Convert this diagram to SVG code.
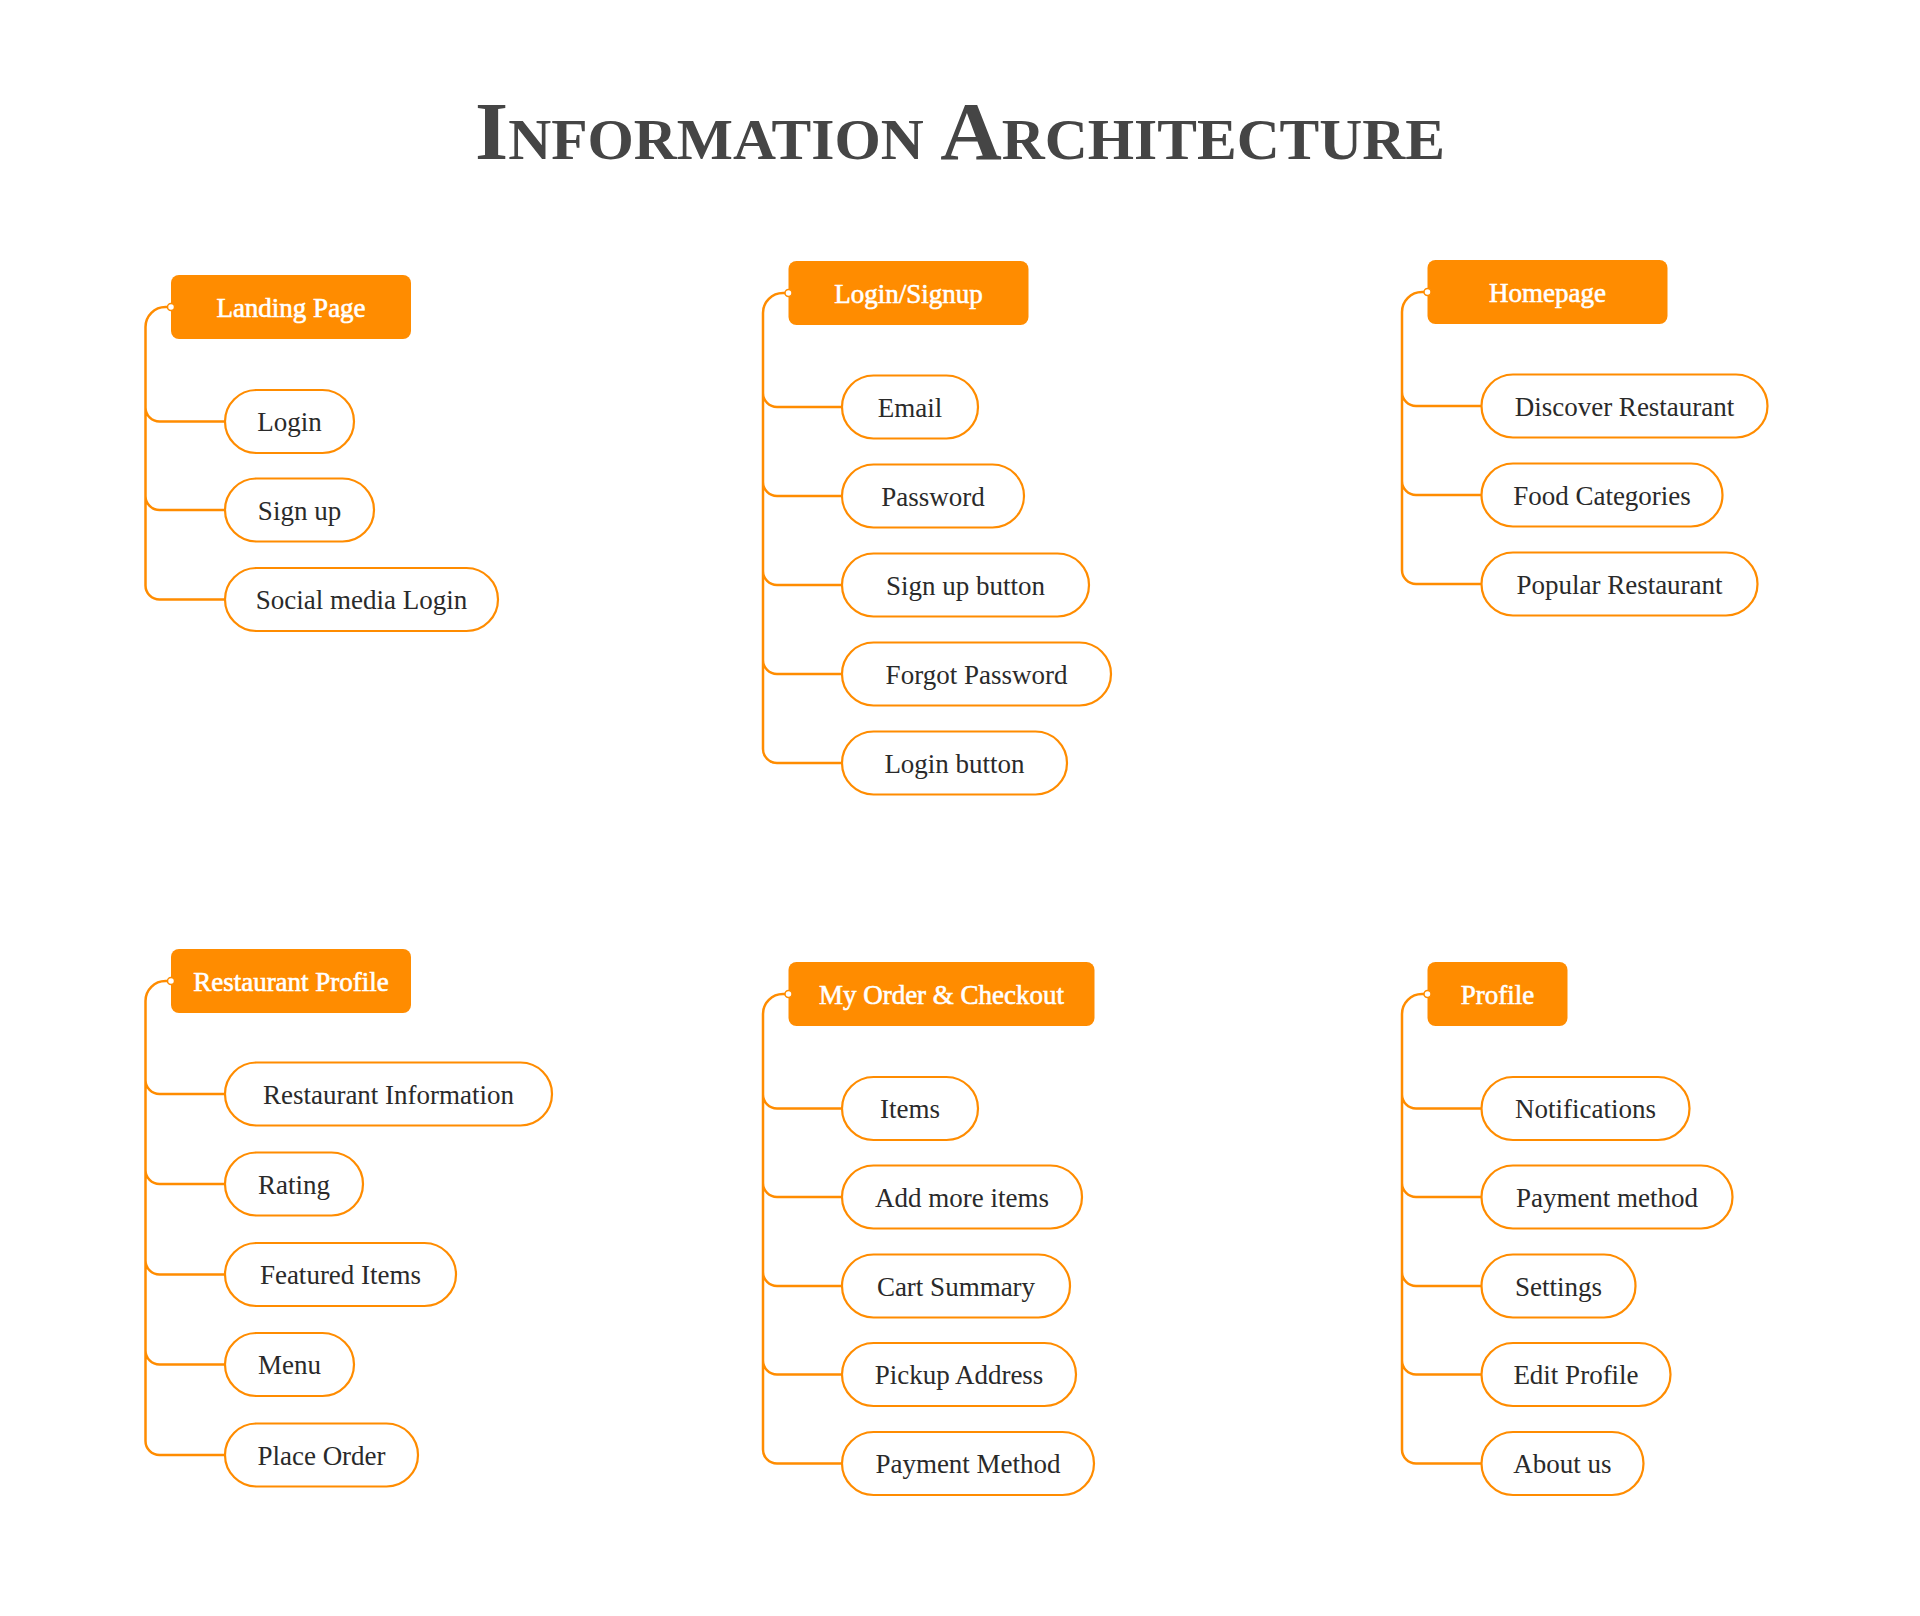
<svg xmlns="http://www.w3.org/2000/svg" width="1920" height="1616" viewBox="0 0 1920 1616">
<style>
.hdr{fill:#FF8C00;}
.hdrt{font-family:"Liberation Serif","DejaVu Serif",serif;font-size:27px;font-weight:normal;fill:#FFFFFF;stroke:#FFFFFF;stroke-width:0.6;text-anchor:middle;}
.pill{fill:#FFFFFF;stroke:#FF8C00;stroke-width:2.2;}
.pt{font-family:"Liberation Serif","DejaVu Serif",serif;font-size:27px;fill:#2A2A2A;text-anchor:middle;}
.con{fill:none;stroke:#FF8C00;stroke-width:2.5;}
.dot{fill:#FFFFFF;stroke:#FF8C00;stroke-width:1.5;}
.title{font-family:"Liberation Serif","DejaVu Serif",serif;font-size:83px;font-weight:bold;font-variant:small-caps;fill:#454545;text-anchor:middle;}
</style>
<rect width="1920" height="1616" fill="#FFFFFF"/>
<text class="title" x="960" y="159" textLength="970" lengthAdjust="spacingAndGlyphs">Information Architecture</text>

<g id="connectors">
  <path class="con" d="M171 307 H165.5 A20 20 0 0 0 145.5 327 V585.5 A14 14 0 0 0 159.5 599.5 H225 M145.5 407.5 A14 14 0 0 0 159.5 421.5 H225 M145.5 496 A14 14 0 0 0 159.5 510 H225"/>
  <path class="con" d="M788.5 293 H783 A20 20 0 0 0 763 313 V749 A14 14 0 0 0 777 763 H842 M763 393 A14 14 0 0 0 777 407 H842 M763 482 A14 14 0 0 0 777 496 H842 M763 571 A14 14 0 0 0 777 585 H842 M763 660 A14 14 0 0 0 777 674 H842"/>
  <path class="con" d="M1427.5 292 H1422 A20 20 0 0 0 1402 312 V570 A14 14 0 0 0 1416 584 H1481.5 M1402 392 A14 14 0 0 0 1416 406 H1481.5 M1402 481 A14 14 0 0 0 1416 495 H1481.5"/>
  <path class="con" d="M171 981 H165.5 A20 20 0 0 0 145.5 1001 V1441 A14 14 0 0 0 159.5 1455 H225 M145.5 1080 A14 14 0 0 0 159.5 1094 H225 M145.5 1170 A14 14 0 0 0 159.5 1184 H225 M145.5 1260.5 A14 14 0 0 0 159.5 1274.5 H225 M145.5 1350.5 A14 14 0 0 0 159.5 1364.5 H225"/>
  <path class="con" d="M788.5 994 H783 A20 20 0 0 0 763 1014 V1449.5 A14 14 0 0 0 777 1463.5 H842 M763 1094.5 A14 14 0 0 0 777 1108.5 H842 M763 1183 A14 14 0 0 0 777 1197 H842 M763 1272 A14 14 0 0 0 777 1286 H842 M763 1360.5 A14 14 0 0 0 777 1374.5 H842"/>
  <path class="con" d="M1427.5 994 H1422 A20 20 0 0 0 1402 1014 V1449.5 A14 14 0 0 0 1416 1463.5 H1481.5 M1402 1094.5 A14 14 0 0 0 1416 1108.5 H1481.5 M1402 1183 A14 14 0 0 0 1416 1197 H1481.5 M1402 1272 A14 14 0 0 0 1416 1286 H1481.5 M1402 1360.5 A14 14 0 0 0 1416 1374.5 H1481.5"/>
</g>

<g id="landing-page">
  <rect class="hdr" x="171" y="275" width="240" height="64" rx="8"/>
  <circle class="dot" cx="171" cy="307" r="3.5"/>
  <text class="hdrt" x="291" y="316.5">Landing Page</text>
</g>
<g id="lp-login"><rect class="pill" x="225" y="390" width="129" height="63" rx="31.5"/><text class="pt" x="289.5" y="431">Login</text></g>
<g id="lp-signup"><rect class="pill" x="225" y="478.5" width="149" height="63" rx="31.5"/><text class="pt" x="299.5" y="519.5">Sign up</text></g>
<g id="lp-social"><rect class="pill" x="225" y="568" width="273" height="63" rx="31.5"/><text class="pt" x="361.5" y="609">Social media Login</text></g>

<g id="login-signup">
  <rect class="hdr" x="788.5" y="261" width="240" height="64" rx="8"/>
  <circle class="dot" cx="788.5" cy="293" r="3.5"/>
  <text class="hdrt" x="908.5" y="302.5">Login/Signup</text>
</g>
<g id="ls-email"><rect class="pill" x="842" y="375.5" width="136" height="63" rx="31.5"/><text class="pt" x="910" y="416.5">Email</text></g>
<g id="ls-password"><rect class="pill" x="842" y="464.5" width="182" height="63" rx="31.5"/><text class="pt" x="933" y="505.5">Password</text></g>
<g id="ls-signup-btn"><rect class="pill" x="842" y="553.5" width="247" height="63" rx="31.5"/><text class="pt" x="965.5" y="594.5">Sign up button</text></g>
<g id="ls-forgot"><rect class="pill" x="842" y="642.5" width="269" height="63" rx="31.5"/><text class="pt" x="976.5" y="683.5">Forgot Password</text></g>
<g id="ls-login-btn"><rect class="pill" x="842" y="731.5" width="225" height="63" rx="31.5"/><text class="pt" x="954.5" y="772.5">Login button</text></g>

<g id="homepage">
  <rect class="hdr" x="1427.5" y="260" width="240" height="64" rx="8"/>
  <circle class="dot" cx="1427.5" cy="292" r="3.5"/>
  <text class="hdrt" x="1547.5" y="301.5">Homepage</text>
</g>
<g id="hp-discover"><rect class="pill" x="1481.5" y="374.5" width="286" height="63" rx="31.5"/><text class="pt" x="1624.5" y="415.5">Discover Restaurant</text></g>
<g id="hp-food"><rect class="pill" x="1481.5" y="463.5" width="241" height="63" rx="31.5"/><text class="pt" x="1602" y="504.5">Food Categories</text></g>
<g id="hp-popular"><rect class="pill" x="1481.5" y="552.5" width="276" height="63" rx="31.5"/><text class="pt" x="1619.5" y="593.5">Popular Restaurant</text></g>

<g id="restaurant-profile">
  <rect class="hdr" x="171" y="949" width="240" height="64" rx="8"/>
  <circle class="dot" cx="171" cy="981" r="3.5"/>
  <text class="hdrt" x="291" y="990.5">Restaurant Profile</text>
</g>
<g id="rp-info"><rect class="pill" x="225" y="1062.5" width="327" height="63" rx="31.5"/><text class="pt" x="388.5" y="1103.5">Restaurant Information</text></g>
<g id="rp-rating"><rect class="pill" x="225" y="1152.5" width="138" height="63" rx="31.5"/><text class="pt" x="294" y="1193.5">Rating</text></g>
<g id="rp-featured"><rect class="pill" x="225" y="1243" width="231" height="63" rx="31.5"/><text class="pt" x="340.5" y="1284">Featured Items</text></g>
<g id="rp-menu"><rect class="pill" x="225" y="1333" width="129" height="63" rx="31.5"/><text class="pt" x="289.5" y="1374">Menu</text></g>
<g id="rp-place"><rect class="pill" x="225" y="1423.5" width="193" height="63" rx="31.5"/><text class="pt" x="321.5" y="1464.5">Place Order</text></g>

<g id="my-order">
  <rect class="hdr" x="788.5" y="962" width="306" height="64" rx="8"/>
  <circle class="dot" cx="788.5" cy="994" r="3.5"/>
  <text class="hdrt" x="941.5" y="1003.5">My Order &amp; Checkout</text>
</g>
<g id="mo-items"><rect class="pill" x="842" y="1077" width="136" height="63" rx="31.5"/><text class="pt" x="910" y="1118">Items</text></g>
<g id="mo-add"><rect class="pill" x="842" y="1165.5" width="240" height="63" rx="31.5"/><text class="pt" x="962" y="1206.5">Add more items</text></g>
<g id="mo-cart"><rect class="pill" x="842" y="1254.5" width="228" height="63" rx="31.5"/><text class="pt" x="956" y="1295.5">Cart Summary</text></g>
<g id="mo-pickup"><rect class="pill" x="842" y="1343" width="234" height="63" rx="31.5"/><text class="pt" x="959" y="1384">Pickup Address</text></g>
<g id="mo-payment"><rect class="pill" x="842" y="1432" width="252" height="63" rx="31.5"/><text class="pt" x="968" y="1473">Payment Method</text></g>

<g id="profile">
  <rect class="hdr" x="1427.5" y="962" width="140" height="64" rx="8"/>
  <circle class="dot" cx="1427.5" cy="994" r="3.5"/>
  <text class="hdrt" x="1497.5" y="1003.5">Profile</text>
</g>
<g id="pf-notif"><rect class="pill" x="1481.5" y="1077" width="208" height="63" rx="31.5"/><text class="pt" x="1585.5" y="1118">Notifications</text></g>
<g id="pf-payment"><rect class="pill" x="1481.5" y="1165.5" width="251" height="63" rx="31.5"/><text class="pt" x="1607" y="1206.5">Payment method</text></g>
<g id="pf-settings"><rect class="pill" x="1481.5" y="1254.5" width="154" height="63" rx="31.5"/><text class="pt" x="1558.5" y="1295.5">Settings</text></g>
<g id="pf-edit"><rect class="pill" x="1481.5" y="1343" width="189" height="63" rx="31.5"/><text class="pt" x="1576" y="1384">Edit Profile</text></g>
<g id="pf-about"><rect class="pill" x="1481.5" y="1432" width="162" height="63" rx="31.5"/><text class="pt" x="1562.5" y="1473">About us</text></g>
</svg>
